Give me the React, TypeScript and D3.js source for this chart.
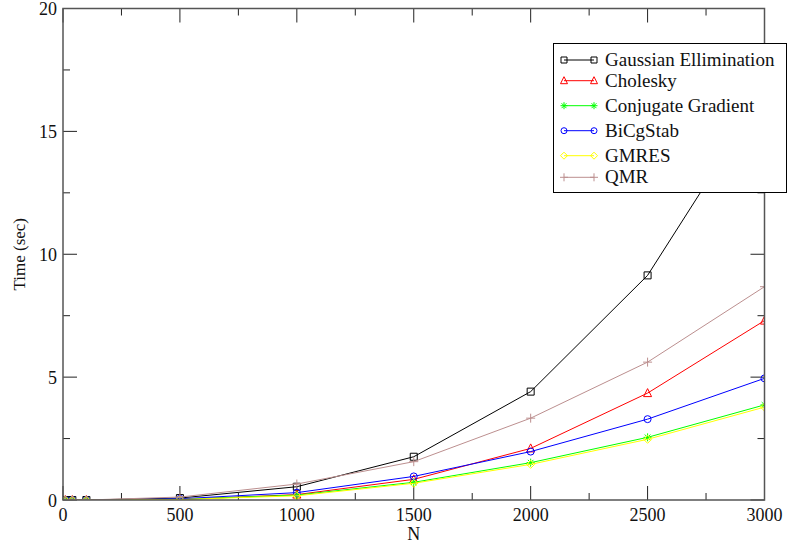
import React from "react";
import * as d3 from "d3";

const N = [10, 40, 100, 500, 1000, 1500, 2000, 2500, 3000];
const gaussian = [0, 0, 0, 0.08, 0.54, 1.76, 4.41, 9.14, 16.6];
const cholesky = [0, 0, 0, 0.02, 0.22, 0.84, 2.1, 4.35, 7.3];
const conjugate = [0, 0, 0, 0.03, 0.2, 0.72, 1.52, 2.55, 3.87];
const bicgstab = [0, 0, 0, 0.05, 0.3, 0.96, 1.97, 3.29, 4.95];
const gmres = [0, 0, 0, 0.02, 0.17, 0.68, 1.45, 2.47, 3.78];
const qmr = [0, 0, 0, 0.12, 0.65, 1.56, 3.33, 5.61, 8.68];

const seriesNames = ["Gaussian Ellimination", "Cholesky", "Conjugate Gradient", "BiCgStab", "GMRES", "QMR"];
const seriesValues = [gaussian, cholesky, conjugate, bicgstab, gmres, qmr];
const seriesColors = ["#000000", "#ff0000", "#00ff00", "#0000ff", "#ffff00", "#bc8f8f"];
const seriesMarkers = ["square", "triangle", "asterisk", "circle", "diamond", "plus"];

const xTicks = [0, 500, 1000, 1500, 2000, 2500, 3000];
const xMinor = [250, 750, 1250, 1750, 2250, 2750];
const yTicks = [0, 5, 10, 15, 20];
const yMinor = [2.5, 7.5, 12.5, 17.5];

const W = 788, H = 546;
const L = 63, R = 764.5, T = 8.5, B = 500;
const FONT = "'Liberation Serif', 'DejaVu Serif', serif";

function markerPath(type: string, r: number): string {
  switch (type) {
    case "square":
      return `M${-r},${-r}H${r}V${r}H${-r}Z`;
    case "triangle":
      return `M0,${-r - 1}L${r + 0.5},${r}L${-r - 0.5},${r}Z`;
    case "circle":
      return `M${r},0A${r},${r} 0 1,1 ${-r},0A${r},${r} 0 1,1 ${r},0Z`;
    case "diamond":
      return `M0,${-r - 0.5}L${r + 0.5},0L0,${r + 0.5}L${-r - 0.5},0Z`;
    case "plus":
      return `M${-r - 1},0H${r + 1}M0,${-r - 1}V${r + 1}`;
    case "asterisk": {
      const a = r + 0.5;
      const d = a * 0.7;
      return `M${-a},0H${a}M0,${-a}V${a}M${-d},${-d}L${d},${d}M${-d},${d}L${d},${-d}`;
    }
  }
  return "";
}

export default function App() {
  const x = d3.scaleLinear().domain([0, 3000]).range([L, R]);
  const y = d3.scaleLinear().domain([0, 20]).range([B, T]);
  const line = d3.line<number>().x((_, i) => x(N[i])).y((v) => y(v));

  const legendRows = [66, 86.7, 111.7, 136.7, 161.7, 183.3];
  const frame = "#555";

  return (
    <svg width={W} height={H} style={{ position: "absolute", left: 0, top: 0, background: "#fff" }}>
      <defs>
        <clipPath id="plotclip">
          <rect x={L} y={T} width={R - L} height={B - T} />
        </clipPath>
      </defs>
      <rect x={0} y={0} width={W} height={H} fill="#fff" />
      {/* ticks */}
      <g stroke="#222" strokeWidth={1}>
        {xTicks.map((t) => (
          <g key={"xt" + t}>
            <line x1={x(t)} x2={x(t)} y1={B} y2={B - 14} />
            <line x1={x(t)} x2={x(t)} y1={T} y2={T + 14} />
          </g>
        ))}
        {xMinor.map((t) => (
          <g key={"xm" + t}>
            <line x1={x(t)} x2={x(t)} y1={B} y2={B - 7} />
            <line x1={x(t)} x2={x(t)} y1={T} y2={T + 7} />
          </g>
        ))}
        {yTicks.map((t) => (
          <g key={"yt" + t}>
            <line x1={L} x2={L + 14} y1={y(t)} y2={y(t)} />
            <line x1={R} x2={R - 14} y1={y(t)} y2={y(t)} />
          </g>
        ))}
        {yMinor.map((t) => (
          <g key={"ym" + t}>
            <line x1={L} x2={L + 7} y1={y(t)} y2={y(t)} />
            <line x1={R} x2={R - 7} y1={y(t)} y2={y(t)} />
          </g>
        ))}
      </g>
      {/* series */}
      <g clipPath="url(#plotclip)">
        {seriesValues.map((vals, si) => (
          <g key={"s" + si}>
            <path d={line(vals) || ""} fill="none" stroke={seriesColors[si]} strokeWidth={1} />
            {vals.map((v, i) => (
              <path
                key={i}
                d={markerPath(seriesMarkers[si], 3.5)}
                transform={`translate(${x(N[i])},${y(v)})`}
                fill="none"
                stroke={seriesColors[si]}
                strokeWidth={1}
              />
            ))}
          </g>
        ))}
      </g>
      {/* frame */}
      <rect x={L} y={T} width={R - L} height={B - T} fill="none" stroke={frame} strokeWidth={1.5} />
      {/* tick labels */}
      <g fontFamily={FONT} fontSize={18} fill="#111">
        {xTicks.map((t) => (
          <text key={"xl" + t} x={x(t)} y={521} textAnchor="middle">
            {t}
          </text>
        ))}
        {yTicks.map((t) => (
          <text key={"yl" + t} x={L - 6} y={y(t) + 6.5} textAnchor="end">
            {t}
          </text>
        ))}
        <text x={(L + R) / 2} y={540} textAnchor="middle" fontSize={18}>
          N
        </text>
        <text transform={`translate(25,${(T + B) / 2}) rotate(-90)`} textAnchor="middle" fontSize={17}>
          Time (sec)
        </text>
      </g>
      {/* legend */}
      <g>
        <rect x={553.5} y={43.5} width={233} height={149} fill="#fff" stroke="#000" strokeWidth={1} />
        {seriesNames.map((name, i) => {
          const ly = legendRows[i] - 6;
          return (
            <g key={"lg" + i}>
              <line x1={564} x2={594} y1={ly} y2={ly} stroke={seriesColors[i]} strokeWidth={1} />
              <path d={markerPath(seriesMarkers[i], 3)} transform={`translate(564,${ly})`} fill="none" stroke={seriesColors[i]} />
              <path d={markerPath(seriesMarkers[i], 3)} transform={`translate(594,${ly})`} fill="none" stroke={seriesColors[i]} />
              <text x={605} y={legendRows[i]} fontFamily={FONT} fontSize={19} fill="#111">
                {name}
              </text>
            </g>
          );
        })}
      </g>
    </svg>
  );
}
